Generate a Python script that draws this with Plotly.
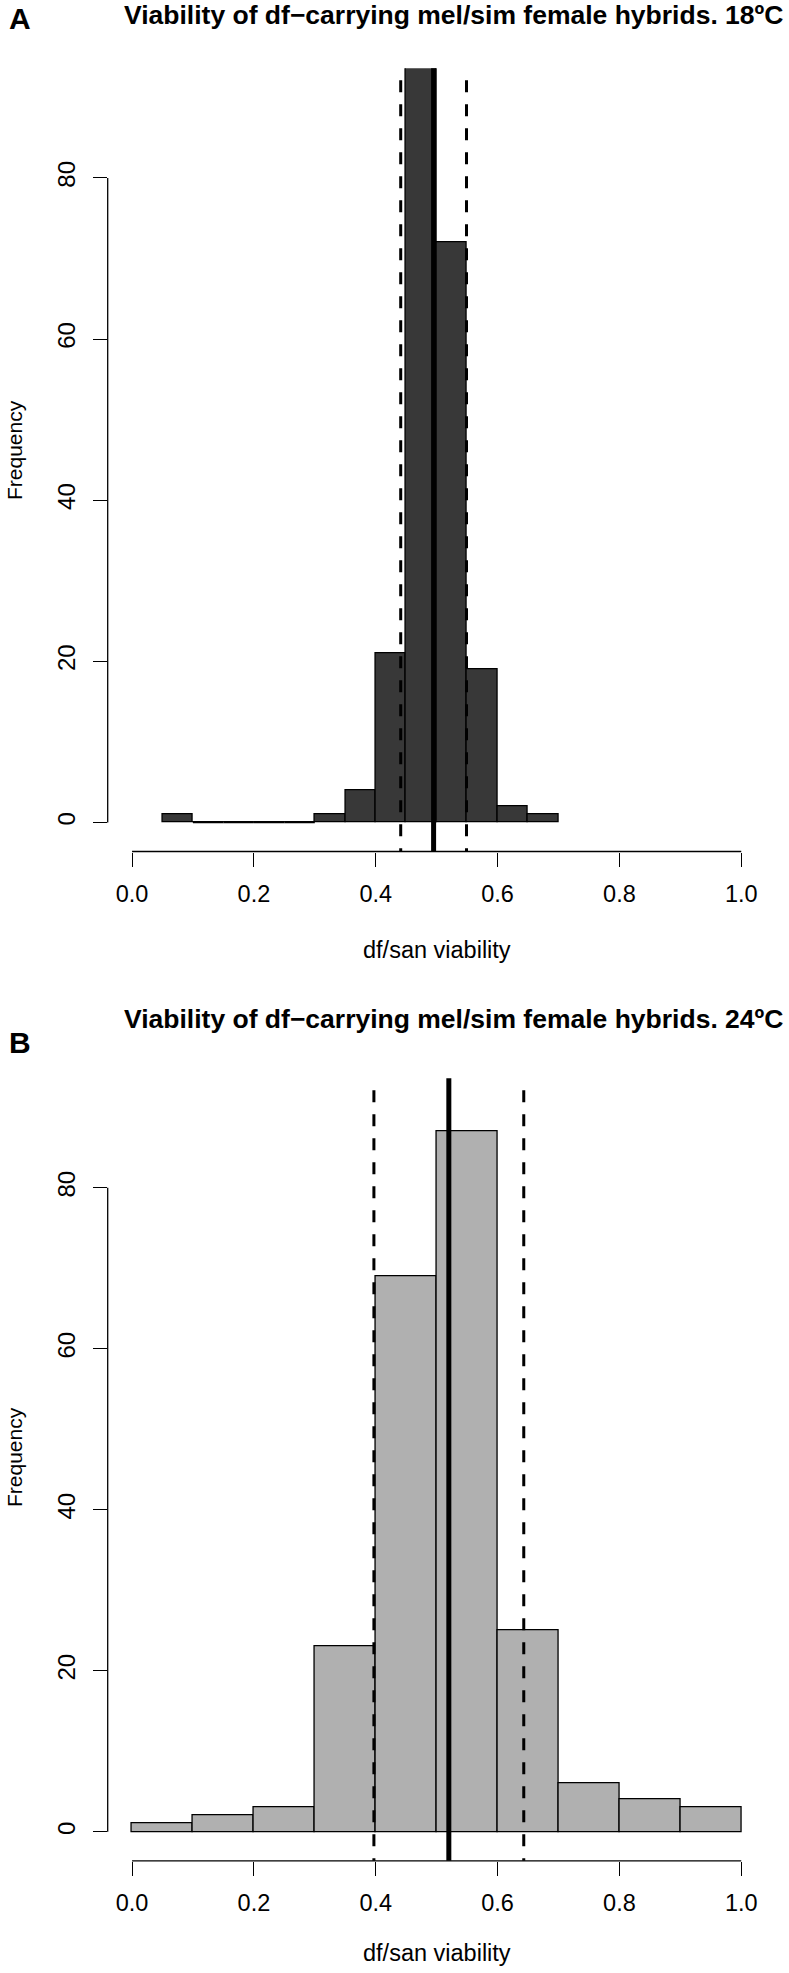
import plotly.graph_objects as go

# ---------------- data ----------------
# Panel A (18 C): bins of width 0.05
binA_left = [0.05, 0.10, 0.15, 0.20, 0.25, 0.30, 0.35, 0.40, 0.45, 0.50, 0.55, 0.60, 0.65]
countA = [1, 0, 0, 0, 0, 1, 4, 21, 104, 72, 19, 2, 1]
binA_width = 0.05
meanA = 0.495
lowerA = 0.441
upperA = 0.549

# Panel B (24 C): bins of width 0.1
binB_left = [0.0, 0.1, 0.2, 0.3, 0.4, 0.5, 0.6, 0.7, 0.8, 0.9]
countB = [1, 2, 3, 23, 69, 87, 25, 6, 4, 3]
binB_width = 0.1
meanB = 0.520
lowerB = 0.397
upperB = 0.643

x_ticks = [0.0, 0.2, 0.4, 0.6, 0.8, 1.0]
x_ticktext = ["0.0", "0.2", "0.4", "0.6", "0.8", "1.0"]
y_ticks = [0, 20, 40, 60, 80]

titleA = "Viability of df\u2212carrying mel/sim female hybrids. 18\u00baC"
titleB = "Viability of df\u2212carrying mel/sim female hybrids. 24\u00baC"
xlab = "df/san viability"
ylab = "Frequency"

# ---------------- layout helpers ----------------
W, H = 789, 1973
FONT = "Liberation Sans, Arial, Helvetica, sans-serif"


def px_x(p):
    return p / W


def px_y(p):
    return 1 - p / H


fig = go.Figure()

fillA = "#383838"
fillB = "#b0b0b0"


def add_hist(lefts, counts, width, color, xa, ya):
    centers = [l + width / 2 for l in lefts]
    fig.add_trace(go.Bar(
        x=centers, y=counts, width=[width] * len(counts),
        marker=dict(color=color, line=dict(color="black", width=1.3)),
        xaxis=xa, yaxis=ya, showlegend=False, hoverinfo="x+y",
    ))
    # zero-count bins drawn as flat outlines (as R hist does)
    for l, c in zip(lefts, counts):
        if c == 0:
            fig.add_trace(go.Scatter(
                x=[l, l + width], y=[0, 0], mode="lines",
                line=dict(color="black", width=1.3),
                xaxis=xa, yaxis=ya, showlegend=False, hoverinfo="skip",
            ))


add_hist(binA_left, countA, binA_width, fillA, "x", "y")
add_hist(binB_left, countB, binB_width, fillB, "x2", "y2")

# domains (pixel derived)
xdom = [px_x(107.7), px_x(765.6)]
yA = [px_y(851.5), px_y(68.3)]
yB = [px_y(1860.8), px_y(1078.3)]

tickfont_x = dict(family=FONT, size=23.5, color="black")
tickfont_y = dict(family=FONT, size=24, color="black")

xaxis_common = dict(
    range=[-0.04, 1.04], domain=xdom, showgrid=False, zeroline=False,
    showline=False, ticks="outside", ticklen=14, tickwidth=1.3, tickcolor="black",
    tickvals=x_ticks, ticktext=x_ticktext, tickfont=tickfont_x, ticklabelstandoff=7,
)
yaxis_common = dict(
    range=[-3.6, 93.6], showgrid=False, zeroline=False, showline=False,
    ticks="outside", ticklen=14, tickwidth=1.3, tickcolor="black",
    tickvals=y_ticks, tickangle=-90, tickfont=tickfont_y, ticklabelstandoff=8,
)

fig.update_layout(
    width=W, height=H, margin=dict(l=0, r=0, t=0, b=0),
    paper_bgcolor="white", plot_bgcolor="white", bargap=0,
    xaxis=dict(**xaxis_common, anchor="y"),
    yaxis=dict(**yaxis_common, domain=yA, anchor="x"),
    xaxis2=dict(**xaxis_common, anchor="y2"),
    yaxis2=dict(**yaxis_common, domain=yB, anchor="x2"),
)

shapes = []
for xr, yr in (("x", "y"), ("x2", "y2")):
    # x axis line from first to last tick
    shapes.append(dict(type="line", xref=xr, yref=yr + " domain",
                       x0=x_ticks[0], x1=x_ticks[-1], y0=0, y1=0,
                       line=dict(color="black", width=1.3)))
    # y axis line from first to last tick
    shapes.append(dict(type="line", xref=xr + " domain", yref=yr,
                       x0=0, x1=0, y0=y_ticks[0], y1=y_ticks[-1],
                       line=dict(color="black", width=1.3)))

for xr, yr, m, lo, hi in (("x", "y", meanA, lowerA, upperA),
                          ("x2", "y2", meanB, lowerB, upperB)):
    for v in (lo, hi):
        shapes.append(dict(type="line", xref=xr, yref=yr + " domain",
                           x0=v, x1=v, y0=1, y1=0,
                           line=dict(color="black", width=3,
                                     dash="0px,12px,12px,0px")))
    shapes.append(dict(type="line", xref=xr, yref=yr + " domain",
                       x0=m, x1=m, y0=0, y1=1,
                       line=dict(color="black", width=5)))
fig.update_layout(shapes=shapes)

ann = []
# panel letters
ann.append(dict(text="A", x=px_x(20), y=px_y(19), xref="paper", yref="paper",
                xanchor="center", yanchor="middle", showarrow=False,
                font=dict(family=FONT, size=30, color="black", weight="bold")))
ann.append(dict(text="B", x=px_x(20), y=px_y(1042), xref="paper", yref="paper",
                xanchor="center", yanchor="middle", showarrow=False,
                font=dict(family=FONT, size=30, color="black", weight="bold")))
# titles
ann.append(dict(text=titleA, x=px_x(453), y=px_y(15), xref="paper", yref="paper",
                xanchor="center", yanchor="middle", showarrow=False,
                font=dict(family=FONT, size=26.5, color="black", weight="bold")))
ann.append(dict(text=titleB, x=px_x(453), y=px_y(1019), xref="paper", yref="paper",
                xanchor="center", yanchor="middle", showarrow=False,
                font=dict(family=FONT, size=26.5, color="black", weight="bold")))
# axis titles
for yc in (950, 1953):
    ann.append(dict(text=xlab, x=px_x(436.7), y=px_y(yc), xref="paper", yref="paper",
                    xanchor="center", yanchor="middle", showarrow=False,
                    font=dict(family=FONT, size=23.5, color="black")))
for yc in (450, 1457):
    ann.append(dict(text=ylab, x=px_x(14), y=px_y(yc), xref="paper", yref="paper",
                    xanchor="center", yanchor="middle", showarrow=False, textangle=-90,
                    font=dict(family=FONT, size=21, color="black")))
fig.update_layout(annotations=ann)

# remove the default page margin so the figure fills the window exactly,
# and hide the mode bar so it does not cover the title
fig.write_html("out.html",
               config={"displayModeBar": False},
               post_script="document.body.style.margin='0';"
                           "document.body.style.padding='0';")
